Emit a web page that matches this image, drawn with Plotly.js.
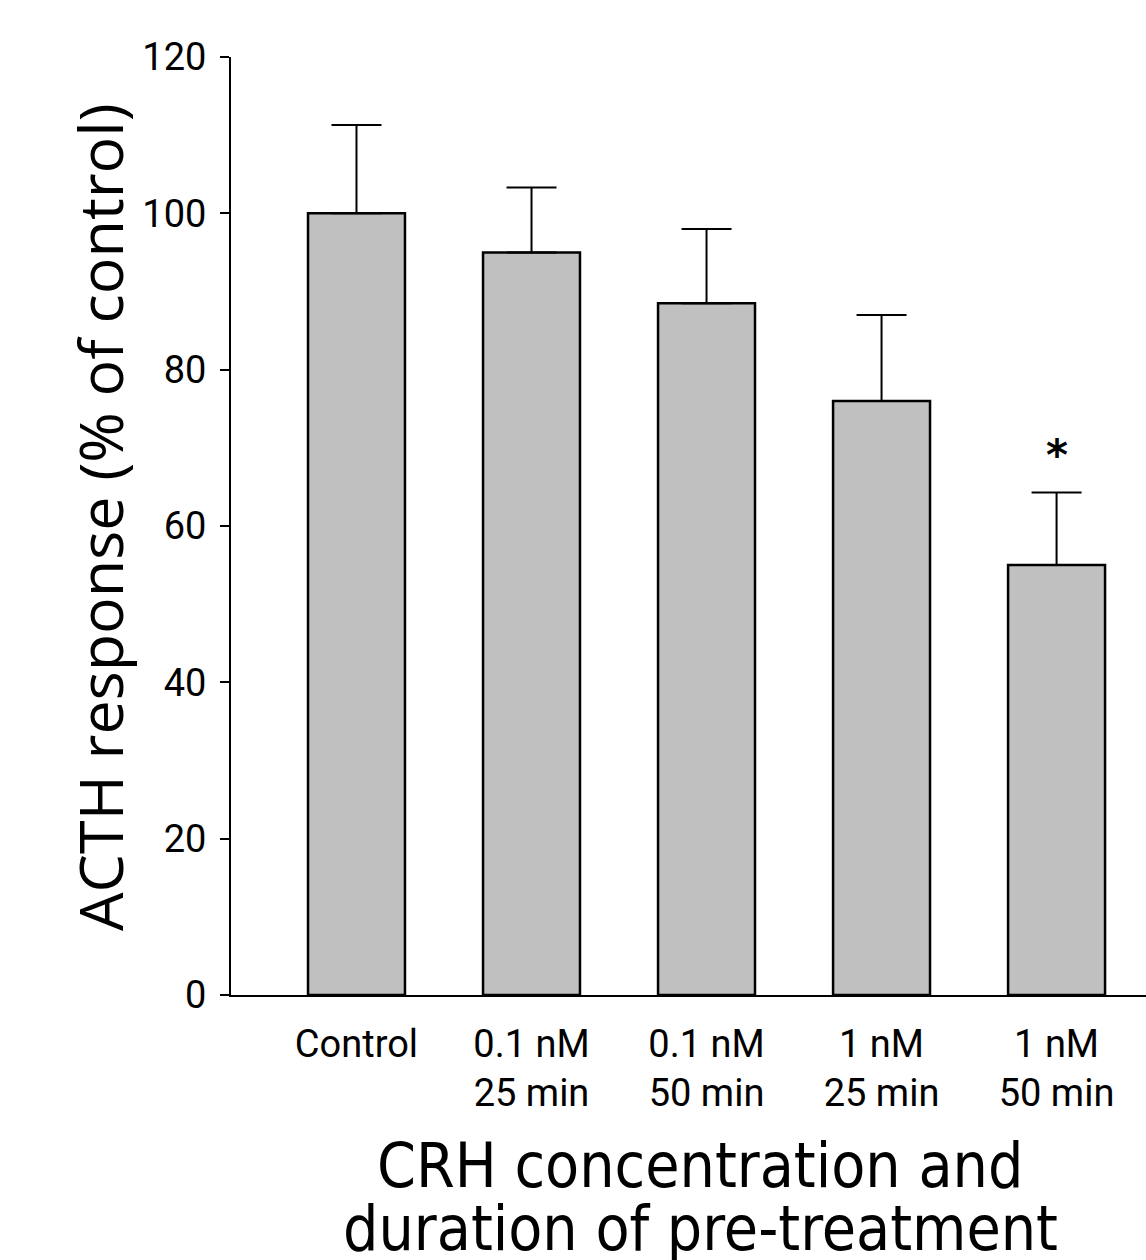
<!DOCTYPE html>
<html>
<head>
<meta charset="utf-8">
<script src="https://cdn.plot.ly/plotly-3.0.1.min.js"></script>
<style>
  html, body { margin: 0; padding: 0; background: #fff; }
  #chart { width: 1146px; height: 1260px; }
</style>
</head>
<body>
<div id="chart"></div>
<script>
const categories = ["Control", "0.1 nM<br>25 min", "0.1 nM<br>50 min", "1 nM<br>25 min", "1 nM<br>50 min"];
const meanValues = [100, 95, 88.5, 76, 55];
const errorPlus = [11.3, 8.3, 9.5, 11, 9.3];
const significance = ["", "", "", "", "*"];
const yTicks = [0, 20, 40, 60, 80, 100, 120];

const xIdx = categories.map((c, i) => i);

const trace = {
  type: "bar",
  x: xIdx,
  y: meanValues,
  width: 0.554,
  marker: { color: "#c0c0c0", line: { color: "#000", width: 2.5 } },
  error_y: {
    type: "data",
    symmetric: false,
    array: errorPlus,
    arrayminus: errorPlus.map(() => 0),
    color: "#000",
    thickness: 2,
    width: 25
  },
  hoverinfo: "skip"
};

const annotations = [];
significance.forEach((s, i) => {
  if (s) {
    annotations.push({
      x: i, y: meanValues[i] + errorPlus[i], xref: "x", yref: "y",
      text: "<b>" + s + "</b>", showarrow: false, yanchor: "bottom", yshift: 10,
      font: { family: "DejaVu Sans", size: 42, color: "#000" }
    });
  }
});

annotations.push({
  xref: "paper", yref: "paper", x: -0.1432, y: 0.5096,
  xanchor: "center", yanchor: "middle", textangle: -90, showarrow: false,
  text: "ACTH response (% of control)",
  font: { family: "Open Sans", size: 61, color: "#000" }
});
annotations.push({
  xref: "paper", yref: "paper", x: 0.5126, y: -0.182,
  xanchor: "center", yanchor: "middle", showarrow: false,
  text: "CRH concentration and",
  font: { family: "Liberation Sans Narrow, DejaVu Sans Condensed, Roboto Condensed, sans-serif", size: 62, color: "#000" }
});
annotations.push({
  xref: "paper", yref: "paper", x: 0.5126, y: -0.249,
  xanchor: "center", yanchor: "middle", showarrow: false,
  text: "duration of pre-treatment",
  font: { family: "Liberation Sans Narrow, DejaVu Sans Condensed, Roboto Condensed, sans-serif", size: 62, color: "#000" }
});

const layout = {
  width: 1146, height: 1260,
  margin: { l: 231, r: 0, t: 57, b: 265 },
  paper_bgcolor: "#fff", plot_bgcolor: "#fff",
  showlegend: false,
  bargap: 0,
  xaxis: {
    range: [-0.717, 4.511],
    tickmode: "array", tickvals: xIdx, ticktext: categories,
    ticks: "", showgrid: false, zeroline: false,
    showline: true, linecolor: "#000", linewidth: 2,
    tickfont: { family: "Roboto", size: 38, color: "#000" },
    ticklabelstandoff: 14,
    fixedrange: true
  },
  yaxis: {
    range: [0, 120],
    tickmode: "array", tickvals: yTicks,
    ticks: "outside", ticklen: 9, tickwidth: 2, tickcolor: "#000",
    showgrid: false, zeroline: false,
    showline: true, linecolor: "#000", linewidth: 2,
    tickfont: { family: "Roboto", size: 38, color: "#000" },
    ticklabelstandoff: 6,
    fixedrange: true
  },
  annotations: annotations
};

Plotly.newPlot("chart", [trace], layout, { staticPlot: true, displayModeBar: false });
</script>
</body>
</html>
